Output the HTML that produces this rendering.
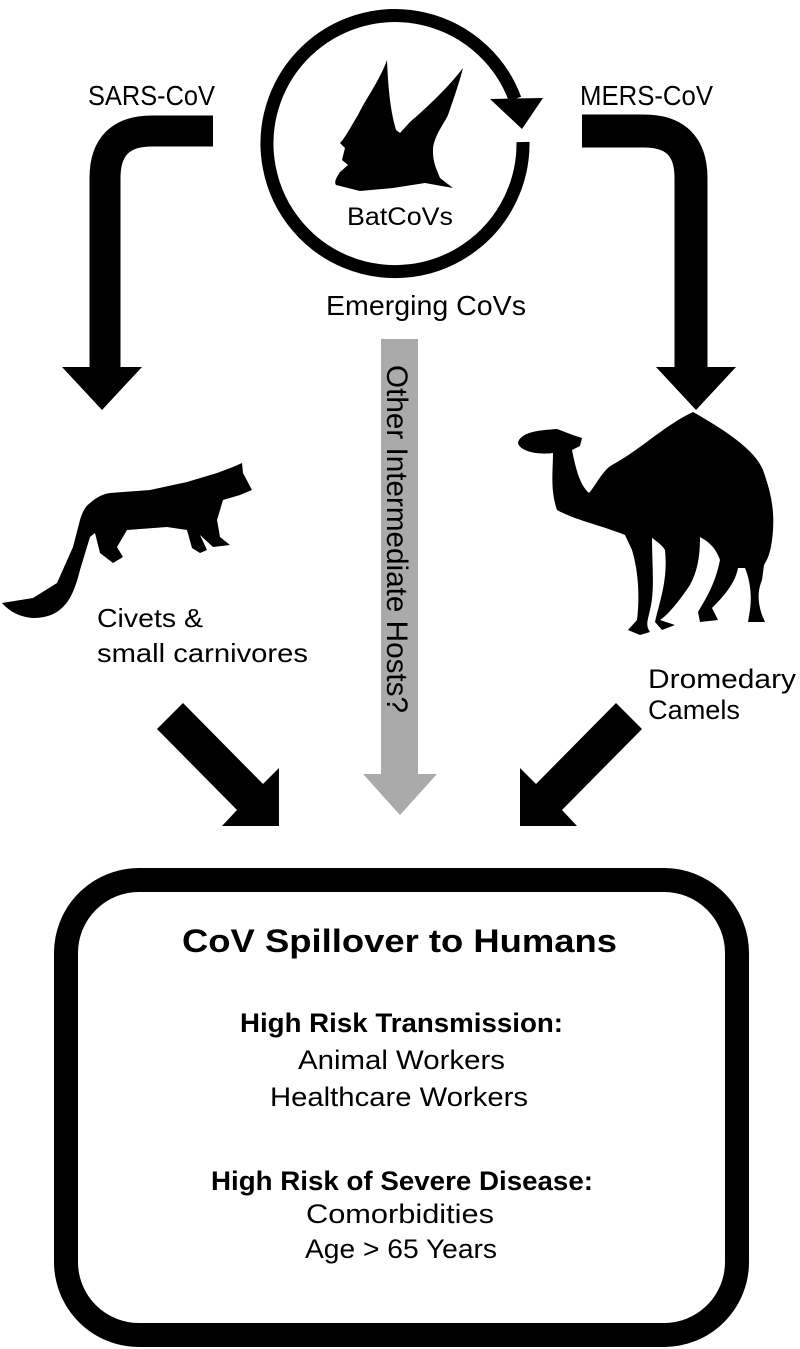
<!DOCTYPE html>
<html><head><meta charset="utf-8"><style>
html,body{margin:0;padding:0;background:#fff;}
svg{display:block;}
text{font-family:"Liberation Sans",sans-serif;fill:#000;}
</style></head><body>
<svg width="800" height="1349" viewBox="0 0 800 1349" xmlns="http://www.w3.org/2000/svg">
<!-- circle arrow -->
<path d="M523,142 A128,128 0 1 1 515,99" fill="none" stroke="#000" stroke-width="13"/>
<polygon points="490,99 543,98 522,129" fill="#000"/>
<!-- bat -->
<path d="M387,60 C380,80 365,100 358,115 C350,128 345,138 340,143 L345,148 L342,160 L348,165 L340,172 C336,178 334,182 336,185 L360,191 L393,188 L425,183 L453,188 L440,178 L436,168 C433,160 432,150 434,143 C438,130 445,122 448,115 C455,95 460,80 463,68 C450,85 430,105 410,122 L400,133 L396,130 C390,110 388,85 387,60Z" fill="#000"/>
<text x="347" y="225" font-size="25" textLength="106" lengthAdjust="spacingAndGlyphs">BatCoVs</text>
<text x="326" y="315" font-size="28" textLength="200" lengthAdjust="spacingAndGlyphs">Emerging CoVs</text>
<text x="88" y="105" font-size="28" textLength="127" lengthAdjust="spacingAndGlyphs">SARS-CoV</text>
<text x="580" y="105" font-size="28" textLength="133" lengthAdjust="spacingAndGlyphs">MERS-CoV</text>
<!-- bent arrows -->
<path d="M213,131 H152 Q105,131 105,178 V369" fill="none" stroke="#000" stroke-width="31"/>
<polygon points="62,367 142,367 102,410" fill="#000"/>
<path d="M582,131 H644 Q691,131 691,178 V369" fill="none" stroke="#000" stroke-width="33"/>
<polygon points="656,367 736,367 696,410" fill="#000"/>
<!-- gray arrow -->
<rect x="381" y="339" width="37" height="437" fill="#aaa"/>
<polygon points="363,774 437,774 400,815" fill="#aaa"/>
<text transform="translate(387,365) rotate(90)" font-size="30" textLength="348" lengthAdjust="spacingAndGlyphs">Other Intermediate Hosts?</text>
<!-- civet -->
<path d="M2,603 L33,598 L57,583 L73,547 L80,520 C83,510 86,506 90,503 C97,497 103,494 110,493 L150,490 L187,482 L217,473 L233,467 L242,463 L243,473 L252,490 L240,495 L223,500 L217,520 L220,537 L230,545 L213,547 L200,535 L207,550 L200,553 L192,548 L187,530 L167,527 L127,530 L117,547 L123,557 L113,563 L100,553 L95,533 L90,537 L80,570 C75,590 70,600 63,607 C55,615 45,618 33,618 C20,617 10,612 2,603Z" fill="#000"/>
<text x="97" y="627" font-size="26" textLength="106" lengthAdjust="spacingAndGlyphs">Civets &amp;</text>
<text x="97" y="662" font-size="26" textLength="211" lengthAdjust="spacingAndGlyphs">small carnivores</text>
<!-- camel -->
<path d="M518,443 C520,432 540,430 557,429 C565,432 575,436 582,438 L580,446 L572,450 C576,470 580,485 589,493 C596,485 603,470 612,465 C640,450 665,425 693,412 C725,430 755,450 763,470 C770,490 776,510 772,540 C770,555 767,560 764,565 L762,580 C758,590 757,600 762,615 L765,622 L748,622 L750,610 C752,595 750,580 745,568 L738,568 C735,585 720,600 712,608 L718,620 L700,622 L698,612 C705,600 715,585 720,560 C715,545 705,540 700,537 C700,555 698,570 690,585 C680,600 668,615 660,620 L675,625 L662,630 L655,622 C660,600 668,580 665,550 C662,545 655,540 652,538 C652,565 655,590 650,610 C648,620 645,625 650,632 L640,635 L628,630 L637,620 C640,595 638,570 632,550 L625,535 C600,525 575,520 557,510 C550,490 553,470 553,453 C540,455 520,452 518,443Z" fill="#000"/>
<text x="648" y="688" font-size="27" textLength="148" lengthAdjust="spacingAndGlyphs">Dromedary</text>
<text x="648" y="719" font-size="27" textLength="92" lengthAdjust="spacingAndGlyphs">Camels</text>
<!-- diagonal arrows -->
<polygon points="183,703 263,784 279,768 279,826 222,826 237,810 157,729" fill="#000"/>
<polygon points="183,703 263,784 279,768 279,826 222,826 237,810 157,729" fill="#000" transform="translate(799,0) scale(-1,1)"/>
<!-- box -->
<rect x="66" y="880" width="671" height="455" rx="73" fill="none" stroke="#000" stroke-width="24"/>
<text x="182" y="952" font-size="32" font-weight="bold" textLength="435" lengthAdjust="spacingAndGlyphs">CoV Spillover to Humans</text>
<text x="240" y="1032" font-size="27" font-weight="bold" textLength="323" lengthAdjust="spacingAndGlyphs">High Risk Transmission:</text>
<text x="298" y="1069" font-size="27" textLength="207" lengthAdjust="spacingAndGlyphs">Animal Workers</text>
<text x="270" y="1106" font-size="27" textLength="258" lengthAdjust="spacingAndGlyphs">Healthcare Workers</text>
<text x="211" y="1190" font-size="27" font-weight="bold" textLength="382" lengthAdjust="spacingAndGlyphs">High Risk of Severe Disease:</text>
<text x="306" y="1223" font-size="27" textLength="188" lengthAdjust="spacingAndGlyphs">Comorbidities</text>
<text x="305" y="1258" font-size="27" textLength="192" lengthAdjust="spacingAndGlyphs">Age &gt; 65 Years</text>
</svg>
</body></html>
